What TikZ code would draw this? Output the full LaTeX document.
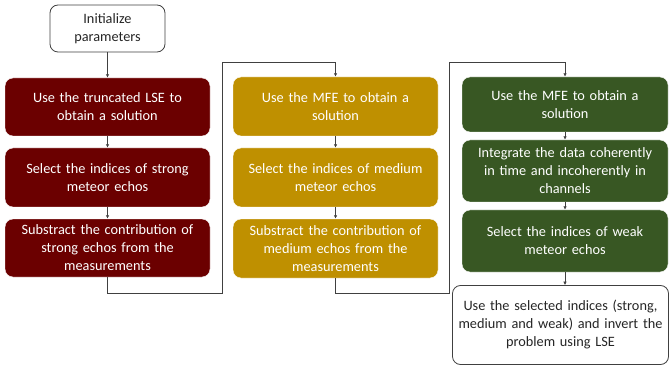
\documentclass[tikz,border=0pt]{standalone}
\usepackage{fontspec}
\setmainfont{Carlito}
\usetikzlibrary{arrows.meta}
\definecolor{cred}{HTML}{6B0000}
\definecolor{cyel}{HTML}{BF9000}
\definecolor{cgrn}{HTML}{385723}
\definecolor{cline}{HTML}{404040}
\tikzset{
  boxbase/.style={rounded corners=8pt, align=center, font=\fontsize{14.3}{18}\selectfont, inner sep=1pt},
  redbox/.style={boxbase, fill=cred, draw=white, text=white, minimum width=205pt, text width=201pt},
  yelbox/.style={boxbase, fill=cyel, draw=white, text=white, minimum width=205pt, text width=201pt},
  grnbox/.style={boxbase, fill=cgrn, draw=white, text=white, minimum width=206pt, text width=202pt},
  whbox/.style={boxbase, fill=white, draw=cline, line width=0.8pt, text=black!85},
  arr/.style={draw=cline, line width=1pt, -{Latex[length=3.5pt,width=3.5pt]}}
}
\begin{document}
\begin{tikzpicture}[x=1pt,y=-1pt]
\useasboundingbox (0,0) rectangle (669,366);
% column 1
\node[whbox, minimum width=115pt, minimum height=47pt, text width=111pt] (init) at (107.5,28.5) {Initialize\\parameters};
\node[redbox, minimum height=58pt] (r1) at (107.5,107) {Use the truncated LSE to\\obtain a solution};
\node[redbox, minimum height=59pt] (r2) at (107.5,177.5) {Select the indices of strong\\meteor echos};
\node[redbox, minimum height=58pt] (r3) at (107.5,248) {Substract the contribution of\\strong echos from the\\measurements};
% column 2
\node[yelbox, minimum height=59pt] (y1) at (335.5,106.5) {Use the MFE to obtain a\\solution};
\node[yelbox, minimum height=59pt] (y2) at (335.5,177.5) {Select the indices of medium\\meteor echos};
\node[yelbox, minimum height=59pt] (y3) at (335.5,248.5) {Substract the contribution of\\medium echos from the\\measurements};
% column 3
\node[grnbox, minimum height=55pt] (g1) at (565,104.5) {Use the MFE to obtain a\\solution};
\node[grnbox, minimum height=62pt] (g2) at (565,171) {Integrate the data coherently\\in time and incoherently in\\channels};
\node[grnbox, minimum height=62pt] (g3) at (565,241) {Select the indices of weak\\meteor echos};
\node[whbox, minimum width=216pt, minimum height=79pt, text width=212pt] (fin) at (560.5,325) {Use the selected indices (strong,\\medium and weak) and invert the\\problem using LSE};
% junction coordinates
\coordinate (ja) at (222,293);
\coordinate (jb) at (222,63);
\coordinate (jc) at (449,293);
\coordinate (jd) at (449,63);
% connectors
\draw[arr] (init) -- (r1);
\draw[arr] (r1) -- (r2);
\draw[arr] (r2) -- (r3);
\draw[arr] (r3.south) |- (ja) -- (jb) -| (y1.north);
\draw[arr] (y1) -- (y2);
\draw[arr] (y2) -- (y3);
\draw[arr] (y3.south) |- (jc) -- (jd) -| (g1.north);
\draw[arr] (g1) -- (g2);
\draw[arr] (g2) -- (g3);
\draw[arr] (g3.south) -- (g3.south |- fin.north);
\end{tikzpicture}
\end{document}
